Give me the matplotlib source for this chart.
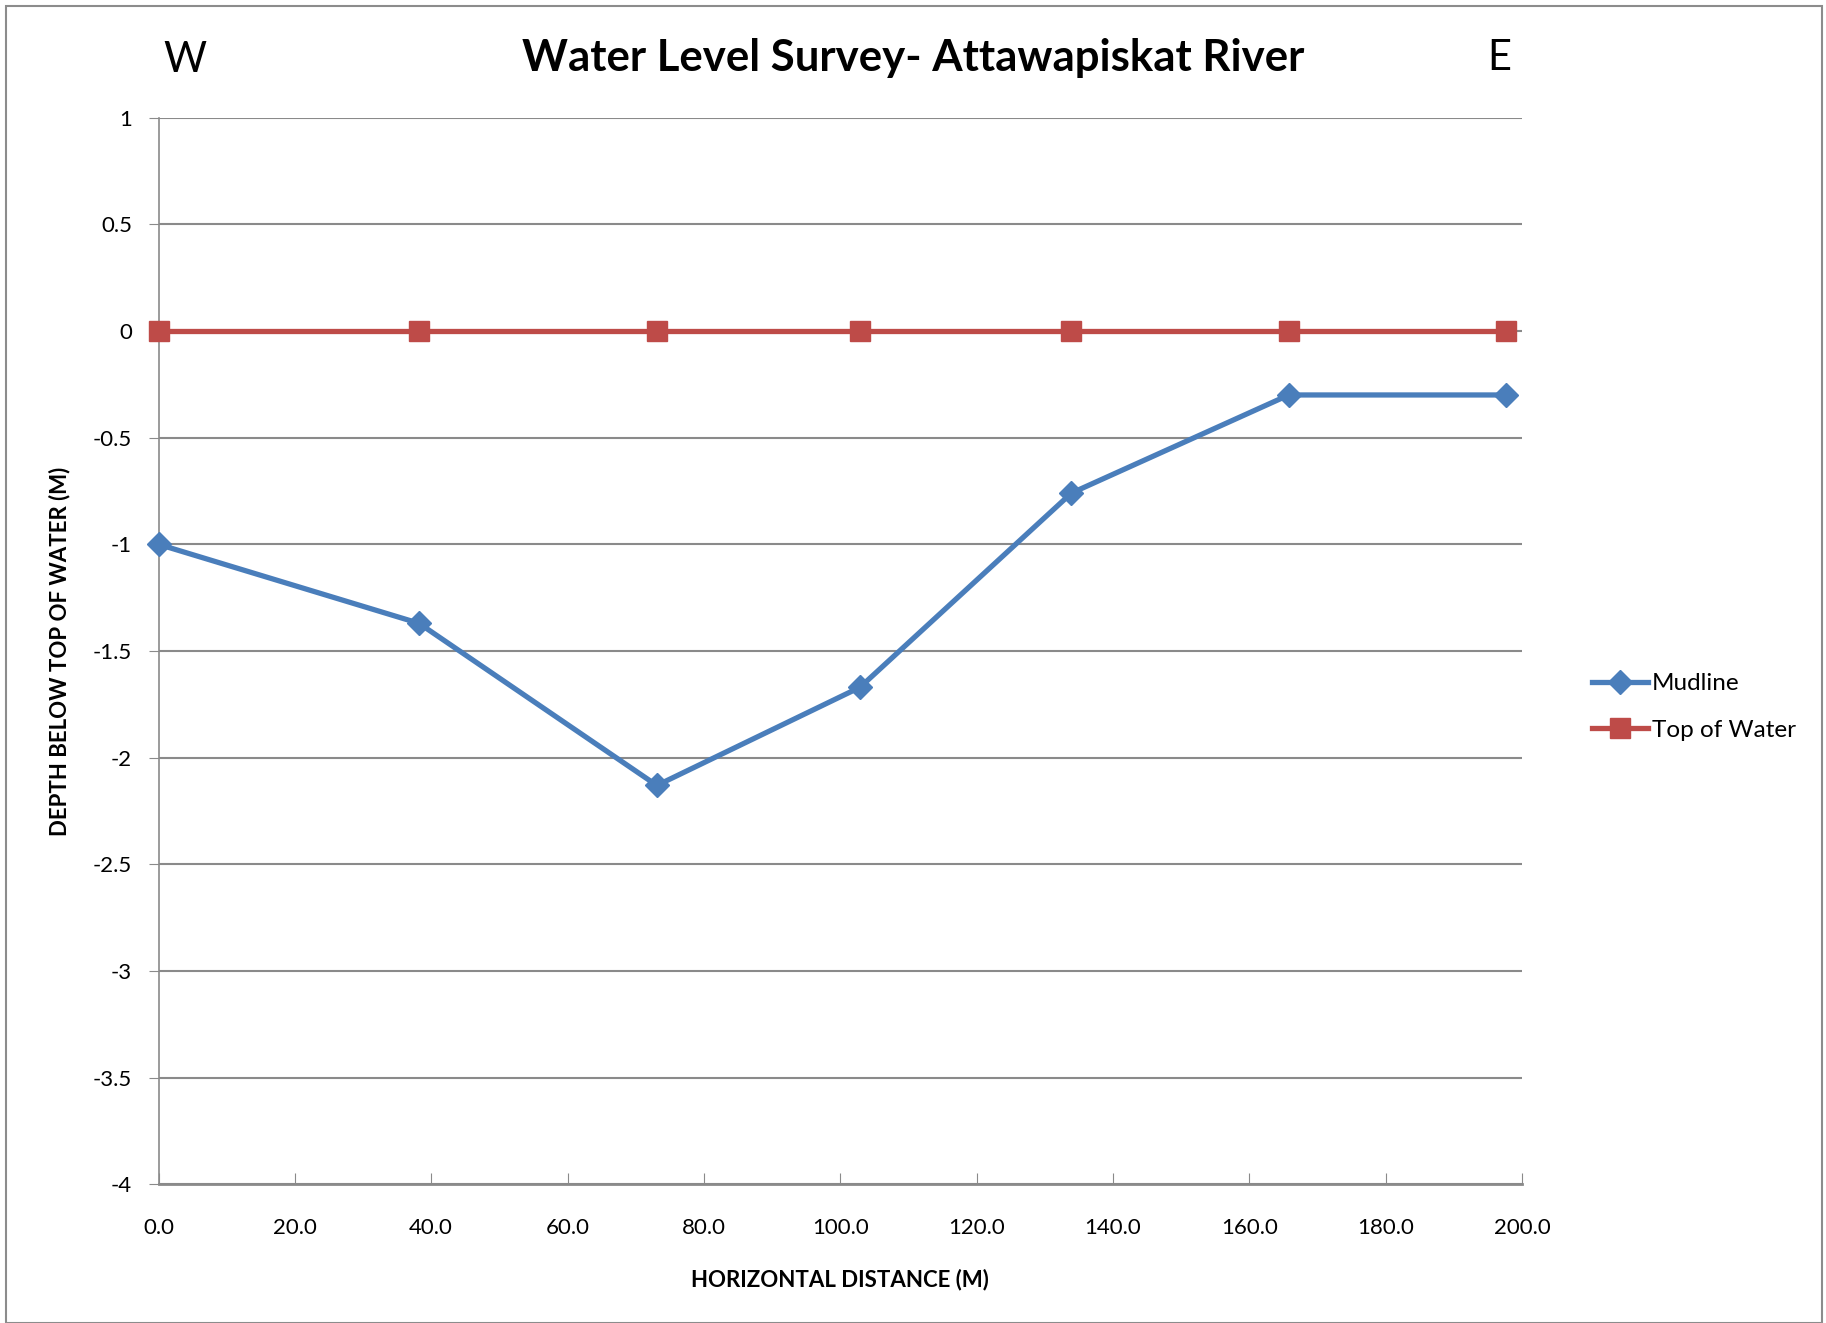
import matplotlib
matplotlib.use("Agg")
import matplotlib.pyplot as plt
from matplotlib.patches import Rectangle

# Data
distance = [0.0, 38.2, 73.1, 102.9, 133.9, 165.8, 197.7]
mudline = [-1.00, -1.37, -2.13, -1.67, -0.76, -0.30, -0.30]
top_of_water = [0, 0, 0, 0, 0, 0, 0]
x_ticks = [0, 20, 40, 60, 80, 100, 120, 140, 160, 180, 200]
y_ticks = [1, 0.5, 0, -0.5, -1, -1.5, -2, -2.5, -3, -3.5, -4]
y_tick_labels = ["1", "0.5", "0", "-0.5", "-1", "-1.5", "-2", "-2.5", "-3", "-3.5", "-4"]

plt.rcParams['font.family'] = ['Lato', 'DejaVu Sans']

W, H = 1826, 1323
fig = plt.figure(figsize=(W / 100, H / 100), dpi=100)
fig.patch.set_facecolor('white')
fig.add_artist(Rectangle((6 / W, 0), (1822 - 6) / W, 1 - 6 / H, transform=fig.transFigure,
                         fill=False, edgecolor='#8c8c8c', linewidth=1.5))

ax = fig.add_axes([158.5 / W, 1 - 1184.4 / H, (1522 - 158.5) / W, (1184.4 - 117.6) / H])

blue = '#4A7EBB'
red = '#BE4B48'
ax.plot(distance, mudline, color=blue, linewidth=3.8, marker='D', markersize=12,
        label='Mudline', zorder=3, clip_on=False)
ax.plot(distance, top_of_water, color=red, linewidth=3.8, marker='s', markersize=14.5,
        label='Top of Water', zorder=3, clip_on=False)

ax.set_xlim(0, 200)
ax.set_ylim(-4, 1)
ax.set_xticks(x_ticks)
ax.set_xticklabels([f"{v:.1f}" for v in x_ticks])
ax.set_yticks(y_ticks)
ax.set_yticklabels(y_tick_labels)

ax.grid(axis='y', color='#8a8a8a', linewidth=1.5)
ax.set_axisbelow(True)
for s in ['top', 'right']:
    ax.spines[s].set_visible(False)
ax.spines['left'].set_color('#8a8a8a')
ax.spines['bottom'].set_color('#8a8a8a')
ax.spines['left'].set_linewidth(1.2)
ax.spines['bottom'].set_linewidth(2)

ax.tick_params(axis='x', direction='in', length=8, color='#8a8a8a', labelsize=16, pad=24)
ax.tick_params(axis='y', direction='out', length=7, color='#8a8a8a', labelsize=16, pad=12)

ax.set_xlabel('HORIZONTAL DISTANCE (M)', fontsize=16, fontweight='bold', labelpad=22)
ax.set_ylabel('DEPTH BELOW TOP OF WATER (M)', fontsize=16, fontweight='bold', labelpad=16)

fig.text(0.5, 1 - 58 / H, 'Water Level Survey- Attawapiskat River', ha='center', va='center',
         fontsize=31.5, fontweight='bold')
fig.text(185 / W, 1 - 60 / H, 'W', ha='center', va='center', fontsize=30)
fig.text(1499 / W, 1 - 58 / H, 'E', ha='center', va='center', fontsize=30)

leg = fig.legend(loc='center left', bbox_to_anchor=(1592 / W, 1 - 707 / H), frameon=False,
                 fontsize=17.5, handlelength=2.3, handletextpad=0.15, labelspacing=1.05,
                 borderaxespad=0, borderpad=0)

fig.savefig('out.png', dpi=100)
